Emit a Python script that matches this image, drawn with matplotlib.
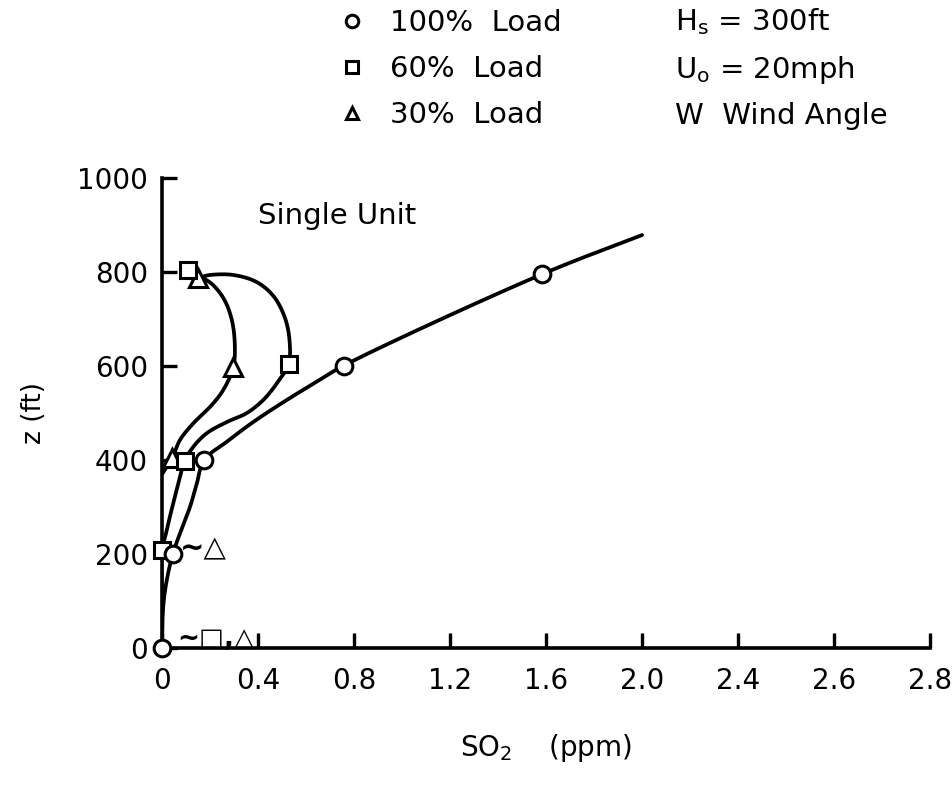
import matplotlib.pyplot as plt
import numpy as np
from matplotlib.lines import Line2D

# measured points (SO2 in ppm, z in ft)
load100_so2 = [0.0, 0.045, 0.175, 0.757, 1.585]
load100_z = [0, 200, 400, 601, 796]
load60_so2 = [0.0, 0.095, 0.527, 0.11]
load60_z = [208, 398, 604, 805]
load30_so2 = [0.04, 0.297, 0.15]
load30_z = [404, 598, 788]

# hand-drawn curves
curve100_so2 = [0.0, 0.005, 0.02, 0.045, 0.08, 0.117, 0.145, 0.175, 0.27, 0.38, 0.52, 0.645,
                0.757, 1.585, 2.0]
curve100_z = [0, 88, 145, 200, 251, 301, 350, 400, 439, 481, 528, 567, 601, 796, 879]
curve60_so2 = [0.0, 0.0, 0.0, 0.0125, 0.033, 0.061, 0.095, 0.13, 0.186, 0.27, 0.353, 0.422,
               0.478, 0.527, 0.532, 0.514, 0.466, 0.394, 0.297, 0.2, 0.165]
curve60_z = [0, 110, 208, 235, 280, 336, 398, 428, 457, 481, 500, 528,
             563, 604, 650, 700, 748, 779, 794, 794, 790]
curve30_so2 = [0.003, 0.047, 0.075, 0.13, 0.2, 0.255, 0.297, 0.303, 0.29, 0.26, 0.214, 0.165]
curve30_z = [372, 410, 443, 478, 513, 549, 598, 650, 700, 741, 772, 790]

xtick_pos = [0, 0.4, 0.8, 1.2, 1.6, 2.0, 2.4, 2.8, 3.2]
xtick_labels = ["0", "0.4", "0.8", "1.2", "1.6", "2.0", "2.4", "2.6", "2.8"]
ytick_pos = [0, 200, 400, 600, 800, 1000]


def smooth(xs, ys, sx=240.0, sy=0.47, n=30):
    # centripetal catmull-rom, done in screen-like units so both axes weigh alike
    pts = np.column_stack([np.asarray(xs) * sx, np.asarray(ys) * sy])
    P = np.vstack([2 * pts[0] - pts[1], pts, 2 * pts[-1] - pts[-2]])
    out = []
    for i in range(len(P) - 3):
        p0, p1, p2, p3 = P[i:i + 4]
        t0 = 0.0
        t1 = t0 + max(np.linalg.norm(p1 - p0), 1e-6) ** 0.5
        t2 = t1 + max(np.linalg.norm(p2 - p1), 1e-6) ** 0.5
        t3 = t2 + max(np.linalg.norm(p3 - p2), 1e-6) ** 0.5
        t = np.linspace(t1, t2, n)[:, None]
        a1 = (t1 - t) / (t1 - t0) * p0 + (t - t0) / (t1 - t0) * p1
        a2 = (t2 - t) / (t2 - t1) * p1 + (t - t1) / (t2 - t1) * p2
        a3 = (t3 - t) / (t3 - t2) * p2 + (t - t2) / (t3 - t2) * p3
        b1 = (t2 - t) / (t2 - t0) * a1 + (t - t0) / (t2 - t0) * a2
        b2 = (t3 - t) / (t3 - t1) * a2 + (t - t1) / (t3 - t1) * a3
        c = (t2 - t) / (t2 - t1) * b1 + (t - t1) / (t2 - t1) * b2
        out.append(c)
    out = np.vstack(out)
    return out[:, 0] / sx, out[:, 1] / sy


plt.rcParams["font.family"] = "DejaVu Sans"
fig = plt.figure(figsize=(9.53, 7.87), dpi=100)
ax = fig.add_axes([0.170, 0.1766, 0.806, 0.597])

lw = 2.7
for cx, cz in [(curve100_so2, curve100_z), (curve60_so2, curve60_z), (curve30_so2, curve30_z)]:
    sx, sz = smooth(cx, cz)
    ax.plot(sx, sz, color="black", lw=lw, solid_capstyle="round", zorder=2)

mk = dict(ls="none", mfc="white", mec="black", mew=2.2, zorder=3, clip_on=False)
ax.plot(load30_so2, load30_z, marker="^", ms=13, **mk)
ax.plot(load60_so2, load60_z, marker="s", ms=11, **mk)
ax.plot(load100_so2, load100_z, marker="o", ms=12, **mk)

ax.text(0.075, 212, "~\u25b3", fontsize=21, va="center", ha="left", fontweight="bold")
ax.text(0.065, 20, "~\u25a1,\u25b3", fontsize=19, va="center", ha="left", fontweight="bold")
ax.text(0.40, 920, "Single Unit", fontsize=21, va="center", ha="left")

ax.set_xlim(0, 3.2)
ax.set_ylim(0, 1000)
ax.spines["top"].set_visible(False)
ax.spines["right"].set_visible(False)
for s in ["left", "bottom"]:
    ax.spines[s].set_linewidth(2.6)
ax.set_xticks(xtick_pos)
ax.set_xticklabels(xtick_labels)
ax.set_yticks(ytick_pos)
ax.tick_params(direction="in", length=11, width=2.4, labelsize=20)
ax.tick_params(axis="x", pad=14)
ax.tick_params(axis="y", pad=10)
ax.set_xlabel("SO$_2$    (ppm)", fontsize=20, labelpad=26)
ax.set_ylabel("z (ft)", fontsize=19, labelpad=22)

handles = [
    Line2D([], [], ls="none", marker="o", ms=9, mfc="white", mec="black", mew=2.2),
    Line2D([], [], ls="none", marker="s", ms=8, mfc="white", mec="black", mew=2.2),
    Line2D([], [], ls="none", marker="^", ms=9, mfc="white", mec="black", mew=2.2),
]
labels = ["100%  Load", "60%  Load", "30%  Load"]
fig.legend(handles, labels, loc="upper left", bbox_to_anchor=(0.33, 1.022), frameon=False,
           fontsize=21, handlelength=0.8, handletextpad=0.9, labelspacing=0.62)

fig.text(0.708, 0.972, "H$_\\mathregular{s}$ = 300ft", fontsize=21, va="center")
fig.text(0.708, 0.911, "U$_\\mathregular{o}$ = 20mph", fontsize=21, va="center")
fig.text(0.708, 0.852, "W  Wind Angle", fontsize=21, va="center")

fig.savefig("out.png", dpi=100)
